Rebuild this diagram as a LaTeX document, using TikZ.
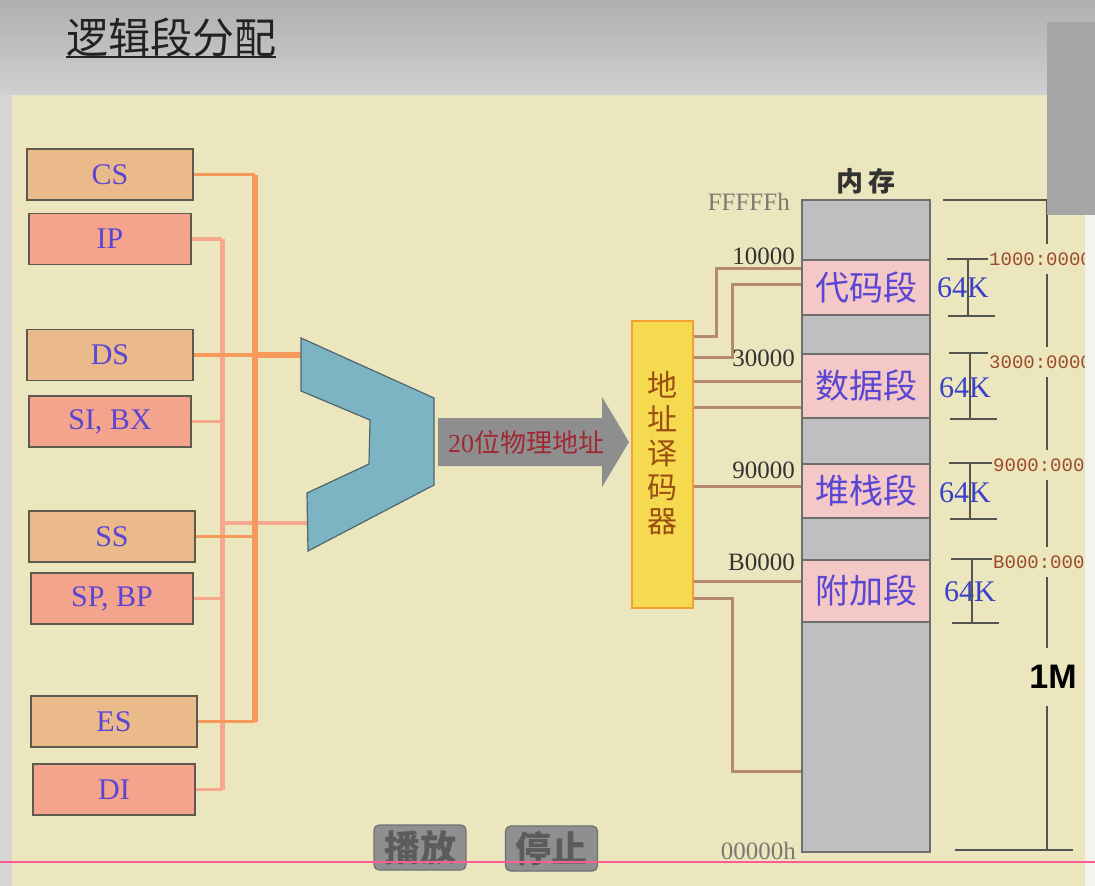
\documentclass[tikz,border=0pt]{standalone}
\usepackage{fontspec}
\setmainfont{Liberation Serif}
\setsansfont{Liberation Sans}
\setmonofont{Liberation Mono}
\newfontfamily\cjk{Noto Sans CJK SC}
\usetikzlibrary{positioning, calc}
\definecolor{slideTop}{HTML}{AFAFAF}
\definecolor{slideBottom}{HTML}{D0D0D0}
\definecolor{slideSide}{HTML}{D6D6D4}
\definecolor{panelYellow}{HTML}{ECE6BF}
\definecolor{titleInk}{HTML}{222222}
\definecolor{regEdge}{HTML}{5E5A50}
\definecolor{segTan}{HTML}{EBBA8A}
\definecolor{offSalmon}{HTML}{F4A48C}
\definecolor{regInk}{HTML}{5A46D2}
\definecolor{segOrange}{HTML}{F7995A}
\definecolor{offWire}{HTML}{F6A88E}
\definecolor{adderBlue}{HTML}{7DB4C4}
\definecolor{adderEdge}{HTML}{4E666C}
\definecolor{arrowGray}{HTML}{8E8E8E}
\definecolor{addrRed}{HTML}{A02832}
\definecolor{decYellow}{HTML}{F5D94E}
\definecolor{decEdge}{HTML}{F0A035}
\definecolor{decInk}{HTML}{9B4D12}
\definecolor{wireBrown}{HTML}{B48C6C}
\definecolor{memGray}{HTML}{BFBFC1}
\definecolor{memPink}{HTML}{F4C8C6}
\definecolor{memEdge}{HTML}{6E6E6E}
\definecolor{kBlue}{HTML}{3A40C8}
\definecolor{addrDark}{HTML}{333333}
\definecolor{addrGray}{HTML}{7A7A72}
\definecolor{tickGray}{HTML}{555550}
\definecolor{segAddr}{HTML}{9C4A2A}
\definecolor{btnGray}{HTML}{8F8F8F}
\definecolor{btnEdge}{HTML}{707070}
\definecolor{btnInk}{HTML}{5C5C5C}
\definecolor{cornerGray}{HTML}{A6A6A6}
\definecolor{stripWhite}{HTML}{F3F3F0}
\definecolor{pinkLine}{HTML}{FF5C93}

\begin{document}
\begin{tikzpicture}[
  x=1pt, y=-1pt,
  segreg/.style={
    rectangle, draw=regEdge, line width=1.2pt,
    fill=segTan, minimum width=166, minimum height=51,
    inner sep=0pt, text=regInk,
    font=\rmfamily\fontsize{30}{30}\selectfont
  },
  offreg/.style={segreg, fill=offSalmon, minimum width=162},
  regwire/.style={line width=3.8pt},
  segbus/.style={draw=segOrange, line width=6pt},
  offbus/.style={draw=offWire, line width=5pt},
  adder/.style={draw=adderEdge, line width=1.2pt, fill=adderBlue},
  decoder/.style={
    rectangle, draw=decEdge, line width=2pt, fill=decYellow,
    minimum width=61, minimum height=287, inner sep=0pt
  },
  dectext/.style={
    align=center, text=decInk, inner sep=0pt,
    font=\cjk\fontsize{30}{34}\selectfont
  },
  decline/.style={draw=wireBrown, line width=3pt},
  memcol/.style={
    rectangle, draw=memEdge, line width=1.5pt, fill=memGray,
    minimum width=128, minimum height=652, inner sep=0pt
  },
  memseg/.style={
    rectangle, draw=memEdge, line width=1.5pt, fill=memPink,
    minimum width=128, inner sep=0pt, text=regInk,
    font=\cjk\fontsize{34}{34}\selectfont
  },
  addr/.style={anchor=east, inner sep=0pt, text=addrDark,
    font=\rmfamily\fontsize{25}{25}\selectfont},
  kilo/.style={inner sep=0pt, text=kBlue,
    font=\rmfamily\fontsize{30}{30}\selectfont},
  bracket/.style={draw=tickGray, line width=1.6pt},
  segaddr/.style={anchor=west, fill=panelYellow, inner xsep=1pt,
    inner ysep=9pt, text=segAddr,
    font=\ttfamily\fontsize{19}{19}\selectfont},
  btn/.style={
    rectangle, rounded corners=5pt, draw=btnEdge, line width=1.2pt,
    fill=btnGray, text=btnInk, minimum width=92, minimum height=45,
    inner sep=0pt, font=\cjk\bfseries\fontsize{36}{36}\selectfont
  },
]

% Slide background
\useasboundingbox (0,0) rectangle (1095,886);
\fill[top color=slideTop, bottom color=slideBottom] (0,0) rectangle (1095,95);
\fill[slideSide] (0,95) rectangle (12,886);
\fill[panelYellow] (12,95) rectangle (1085,886);

% Title
\node[inner xsep=0pt, inner ysep=0pt, text=titleInk,
  font=\cjk\fontsize{42}{42}\selectfont] (ttl) at (171,37) {逻辑段分配};
\draw[titleInk, line width=2pt] (ttl.south west) -- (ttl.south east);

% Register nodes
\node[segreg] (cs)   at (110,174.5) {CS};
\node[offreg] (ip)   at (110,239)   {IP};
\node[segreg] (ds)   at (110,355)   {DS};
\node[offreg] (sibx) at (110,421.5) {SI, BX};
\node[segreg] (ss)   at (112,536.5) {SS};
\node[offreg] (spbp) at (112,598.5) {SP, BP};
\node[segreg] (es)   at (114,721.5) {ES};
\node[offreg] (di)   at (114,789.5) {DI};

% Bus positions and adder inputs
\coordinate (obus) at (222,0);
\coordinate (sbus) at (255,0);
\coordinate (in1) at (301,355);
\coordinate (in2) at (308,523);

% Offset registers onto their bus
\foreach \r in {ip,sibx,spbp,di} {
  \draw[regwire, offWire] (\r.east) -- (\r.east -| obus);
}
\draw[offbus] (obus |- ip.east) -- (obus |- di.east);
\draw[regwire, offWire, line width=4.5pt] (obus |- in2) -- (in2);

% Segment registers onto their bus
\foreach \r in {cs,ds,ss,es} {
  \draw[regwire, segOrange] (\r.east) -- (\r.east -| sbus);
}
\draw[segbus] (sbus |- cs.east) -- (sbus |- es.east);
\draw[segbus] (sbus |- in1) -- (in1);

% Adder
\draw[adder] (301,338) -- (434,398) -- (434,485) -- (308,551) -- (307,493)
  -- (369,464) -- (370,420) -- (301,391) -- cycle;

% 20-bit address arrow
\fill[arrowGray] (438,418) -- (602,418) -- (602,397) -- (629,442)
  -- (602,487) -- (602,466) -- (438,466) -- cycle;
\node[inner sep=0pt, text=addrRed, font=\cjk\fontsize{26}{26}\selectfont]
  (phys) at (526,443) {{\rmfamily 20}位物理地址};

% Address decoder
\node[decoder] (dec) at (662.5,464.5) {};
\node[dectext] (dectxt) at (662,453) {地\\址\\译\\码\\器};

% Memory column
\node[memcol] (mem) at (866,526) {};
\node[memseg, minimum height=55] (code)  at (866,287.5) {代码段};
\node[memseg, minimum height=64] (data)  at (866,386)   {数据段};
\node[memseg, minimum height=54] (stack) at (866,491)   {堆栈段};
\node[memseg, minimum height=62] (extra) at (866,591)   {附加段};
\node[inner sep=0pt, text=addrDark, above=5pt of mem,
  font=\cjk\bfseries\fontsize{27}{27}\selectfont] (memttl) {内\,存};

% Decoder outputs
\draw[decline] (dec.east |- 0,336) -| (716,268) -- (mem.west |- 0,268);
\draw[decline] (dec.east |- 0,357) -| (732,284) -- (mem.west |- 0,284);
\foreach \y in {381,407,486,581} {
  \draw[decline] (dec.east |- 0,\y) -- (mem.west |- 0,\y);
}
\draw[decline] (dec.east |- 0,598) -| (732,771) -- (mem.west |- 0,771);

% Address labels
\node[addr, text=addrGray] (atop) at (790,202) {FFFFFh};
\node[addr] (a1) at (795,256) {10000};
\node[addr] (a3) at (795,358) {30000};
\node[addr] (a9) at (795,470) {90000};
\node[addr] (ab) at (795,562) {B0000};
\node[addr, text=addrGray] (abot) at (796,851) {00000h};

% 64K sizes
\node[kilo] (k1) at (963,288) {64K};
\node[kilo] (k2) at (965,388) {64K};
\node[kilo] (k3) at (965,493) {64K};
\node[kilo] (k4) at (970,592) {64K};
\foreach \s/\x in {code/968,data/970,stack/970,extra/972} {
  \draw[bracket] (\s.north -| \x,0) -- (\s.south -| \x,0);
  \draw[bracket] (\s.north -| \x,0) ++(-21,0) -- ++(44,0);
  \draw[bracket] (\s.south -| \x,0) ++(-20,0) -- ++(47,0);
}

% 1M span
\draw[bracket] (943,200) -- (1047,200) -- (1047,850);
\draw[bracket] (955,850) -- (1073,850);
\node[segaddr] (s1) at (988,259) {1000:0000};
\node[segaddr] (s3) at (988,362) {3000:0000};
\node[segaddr] (s9) at (992,465) {9000:0000};
\node[segaddr] (sb) at (992,562) {B000:0000};
\node[fill=panelYellow, inner xsep=2pt, inner ysep=17pt,
  font=\sffamily\bfseries\fontsize{34}{34}\selectfont] (onem) at (1053,677) {1M};

% Buttons
\node[btn] (play) at (420,847.5) {播放};
\node[btn] (stop) at (551.5,848.5) {停止};

% Slide overlays
\fill[stripWhite] (1085,95) rectangle (1095,886);
\fill[cornerGray] (1047,22) rectangle (1095,215);
\draw[pinkLine, line width=2pt] (0,862) -- (1095,862);

\end{tikzpicture}
\end{document}
